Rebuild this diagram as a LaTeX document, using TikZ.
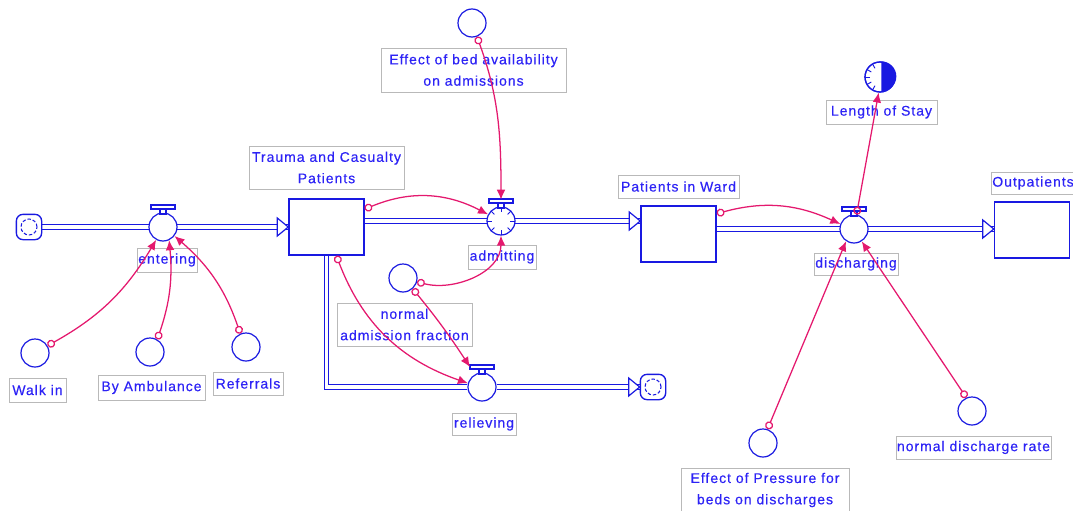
\documentclass[tikz,border=0pt]{standalone}
\usepackage{fontspec}
\newfontfamily\lblfont{Liberation Sans}[LetterSpace=7,FakeBold=0.4]
\usetikzlibrary{arrows.meta,backgrounds}
\definecolor{fblue}{RGB}{25,25,225}
\definecolor{tblue}{RGB}{45,35,245}
\definecolor{cred}{RGB}{228,25,110}
\definecolor{lgray}{RGB}{185,185,185}
\tikzset{
  lbl/.style 2 args={draw=lgray, line width=0.6pt, text=tblue,
    font=\lblfont\fontsize{10.5pt}{16pt}\selectfont, align=center, inner sep=0pt,
    minimum width=#1*0.75pt, minimum height=#2*0.75pt},
  stockbox/.style={draw=fblue, line width=1.1pt, fill=white, rectangle, inner sep=0pt,
    minimum width=56.25pt, minimum height=42pt},
  auxc/.style={draw=fblue, line width=0.9pt, fill=white, circle, inner sep=0pt, minimum size=21pt},
  valvec/.style={auxc},
  cloudbox/.style={draw=fblue, line width=1pt, fill=white, rectangle, rounded corners=5pt,
    inner sep=0pt, minimum size=19pt},
  pipe/.style={draw=fblue, line width=0.9pt, double=white, double distance=2.4pt},
  conn/.style={draw=cred, line width=0.95pt,
    {Circle[open,length=6pt,width=6pt]}-{Latex[length=7.5pt,width=6.5pt]}},
  fhead/.pic={\draw[fblue, line width=0.9pt, fill=white, line join=miter]
     (-11,-9) -- (0,0) -- (-11,9) -- cycle;},
  vhandle/.pic={\draw[fblue, line width=0.8pt, fill=white] (-3,-18) rectangle (3,-13);
     \draw[fblue, line width=0.8pt, fill=white] (-12,-22) rectangle (12,-18);},
}
\begin{document}
\begin{tikzpicture}[x=0.75pt,y=-0.75pt]
\useasboundingbox (0,0) rectangle (1073,510);

% stocks, clouds
\node[stockbox] (tc) at (326.5,227) {};
\node[stockbox] (ward) at (678.5,234) {};
\node[stockbox] (out) at (1032,230) {};
\node[cloudbox] (src) at (29,227) {};
\node[cloudbox] (snk) at (653,387) {};
\draw[fblue, line width=0.8pt, dash pattern=on 2.5pt off 1.5pt] (src.center) circle[radius=6pt];
\draw[fblue, line width=0.8pt, dash pattern=on 2.5pt off 1.5pt] (snk.center) circle[radius=6pt];

% valves
\node[valvec] (ent) at (163,227) {};
\node[valvec] (adm) at (501,221) {};
\node[valvec] (dis) at (854,229) {};
\node[valvec] (rel) at (482,387) {};
\pic at (ent.center) {vhandle};
\pic at (adm.center) {vhandle};
\pic at (dis.center) {vhandle};
\pic at (rel.center) {vhandle};
\foreach \a in {0,45,...,315}
  \draw[fblue, line width=0.7pt] (adm.center) ++(\a:7pt) -- ++(\a:3.5pt);

% auxiliaries
\node[auxc] (walkin) at (35,353) {};
\node[auxc] (amb) at (150,352) {};
\node[auxc] (ref) at (246,347) {};
\node[auxc] (effbed) at (472,23) {};
\node[auxc] (naf) at (403,278) {};
\node[auxc] (effp) at (763,443) {};
\node[auxc] (ndr) at (972,411) {};
\node[auxc, minimum size=22.5pt] (los) at (880,77) {};
\fill[fblue] (los.north) ++(1pt,0) arc[start angle=90, end angle=-90, radius=11.25pt] -- cycle;
\foreach \a in {120,150,180,210,240}
  \draw[fblue, line width=0.7pt] (los.center) ++(\a:7.5pt) -- ++(\a:3.5pt);
\draw[fblue, line width=0.9pt] (los.center) circle[radius=11.25pt];

\begin{pgfonlayer}{background}
% labels
\node[lbl={60}{24}] (l-ent) at (167,260) {entering};
\node[lbl={155}{43}] (l-tc) at (326.5,167.5) {Trauma and Casualty\\Patients};
\node[lbl={185}{44}] (l-effbed) at (473.5,70) {Effect of bed availability\\on admissions};
\node[lbl={68}{24}] (l-adm) at (502,257) {admitting};
\node[lbl={121}{23}] (l-ward) at (678.5,186.5) {Patients in Ward};
\node[lbl={84}{22}] (l-out) at (1033,183) {Outpatients};
\node[lbl={111}{24}] (l-los) at (881.5,112) {Length of Stay};
\node[lbl={84}{22}] (l-dis) at (856,264) {discharging};
\node[lbl={168}{43}] (l-effp) at (765,490) {Effect of Pressure for\\beds on discharges};
\node[lbl={155}{23}] (l-ndr) at (973.5,447.5) {normal discharge rate};
\node[lbl={57}{24}] (l-walkin) at (37.5,390) {Walk in};
\node[lbl={107}{25}] (l-amb) at (151.5,387.5) {By Ambulance};
\node[lbl={70}{23}] (l-ref) at (248,383.5) {Referrals};
\node[lbl={64}{22}] (l-rel) at (484,424) {relieving};
\node[lbl={135}{43}] (l-naf) at (404.5,324.5) {normal\\admission fraction};
% pipes
\draw[pipe] (src.east) -- (tc.west);
\draw[pipe] (tc.east |- adm.center) -- (ward.west |- adm.center);
\draw[pipe] (ward.east |- dis.center) -- (out.west |- dis.center);
\draw[pipe] (tc.south) |- (rel.west);
\draw[pipe] (rel.east) -- (snk.west);
\pic at (tc.west) {fhead};
\pic at (ward.west |- adm.center) {fhead};
\pic at (out.west |- dis.center) {fhead};
\pic at (snk.west) {fhead};
\end{pgfonlayer}

% connectors
\draw[conn] (walkin.30) to[bend right=15] (ent.242);
\draw[conn] (amb.60) to[bend right=12] (ent.295);
\draw[conn] (ref.113) to[bend right=15] (ent.322);
\draw[conn] (tc.25) to[bend left=25] (adm.153);
\draw[conn] (effbed.290) to[out=-70,in=90] ([yshift=5pt]adm.north);
\draw[conn] (naf.345) to[out=-15,in=-90] (adm.south);
\draw[conn] (naf.312) to[bend left=3] ([shift={(-12,-20)}]rel.center);
\draw[conn] (tc.289) to[bend right=25] (rel.165);
\draw[conn] (ward.28) to[bend left=20] (dis.160);
\draw[conn] (dis.80) -- (los.265);
\draw[conn] (effp.72) -- (dis.237);
\draw[conn] (ndr.113) -- (dis.302);
\end{tikzpicture}
\end{document}
